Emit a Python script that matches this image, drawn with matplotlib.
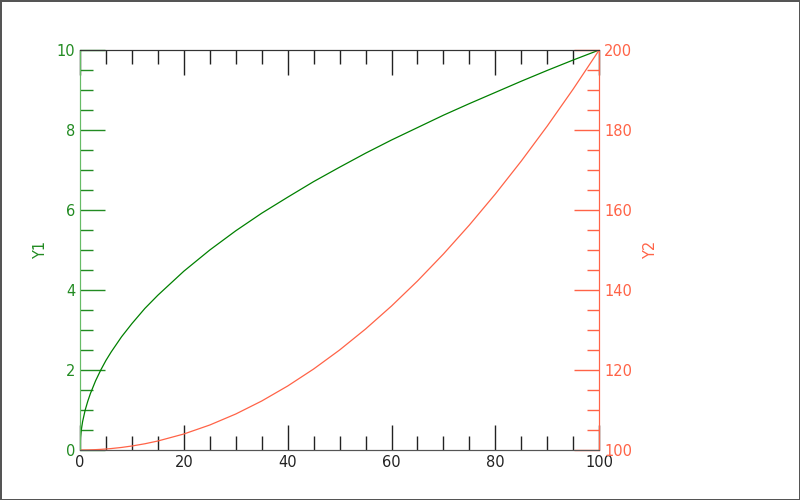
import matplotlib
matplotlib.use("Agg")
import matplotlib.pyplot as plt
from matplotlib.ticker import MultipleLocator

# values
x = [0, 0.1, 0.25, 0.5, 1, 1.5, 2, 3, 4, 5, 6, 8, 10, 12.5, 15, 20, 25,
     30, 35, 40, 45, 50, 55, 60, 65, 70, 75, 80, 85, 90, 95, 100]
y1 = [0, 0.32, 0.5, 0.71, 1.0, 1.22, 1.41, 1.73, 2.0, 2.24, 2.45, 2.83,
      3.16, 3.54, 3.87, 4.47, 5.0, 5.48, 5.92, 6.32, 6.71, 7.07, 7.42,
      7.75, 8.06, 8.37, 8.66, 8.94, 9.22, 9.49, 9.75, 10.0]
y2 = [100, 100, 100, 100, 100.01, 100.02, 100.04, 100.09, 100.16,
      100.25, 100.36, 100.64, 101, 101.56, 102.25, 104, 106.25, 109,
      112.25, 116, 120.25, 125, 130.25, 136, 142.25, 149, 156.25, 164,
      172.25, 181, 190.25, 200]

c1 = "#228b22"
c2 = "#ff6347"

fig = plt.figure(figsize=(8, 5), dpi=100)
fig.patch.set_edgecolor("#555555")
fig.patch.set_linewidth(2)
ax = fig.add_axes([0.1, 0.1, 0.649, 0.8])
ax2 = ax.twinx()

ax.plot(x, y1, color="green", lw=0.9)
ax2.plot(x, y2, color=c2, lw=0.9)

ax.set_xlim(0, 100)
ax.set_ylim(0, 10)
ax2.set_ylim(100, 200)

ax.xaxis.set_major_locator(MultipleLocator(20))
ax.xaxis.set_minor_locator(MultipleLocator(5))
ax.yaxis.set_major_locator(MultipleLocator(2))
ax.yaxis.set_minor_locator(MultipleLocator(0.5))
ax2.yaxis.set_major_locator(MultipleLocator(20))
ax2.yaxis.set_minor_locator(MultipleLocator(5))

ax.tick_params(axis="x", which="both", direction="in", top=True,
               colors="#222222", labelsize=10.5, width=1)
ax.tick_params(axis="x", which="major", length=18)
ax.tick_params(axis="x", which="minor", length=10)
ax.tick_params(axis="y", which="both", direction="in", colors=c1,
               labelsize=10.5, width=1)
ax.tick_params(axis="y", which="major", length=18)
ax.tick_params(axis="y", which="minor", length=9)
ax2.tick_params(axis="y", which="both", direction="in", colors=c2,
                labelsize=10.5, width=1)
ax2.tick_params(axis="y", which="major", length=18)
ax2.tick_params(axis="y", which="minor", length=9)

for a in (ax, ax2):
    a.spines["top"].set_color("#333333")
    a.spines["bottom"].set_color("#555555")
    a.spines["left"].set_color("#66bb66")
    a.spines["right"].set_color(c2)

ax.set_ylabel("Y1", color=c1, fontsize=10.5, labelpad=6)
ax2.set_ylabel("Y2", color=c2, fontsize=10.5, labelpad=8)

fig.savefig("out.png", dpi=100)
